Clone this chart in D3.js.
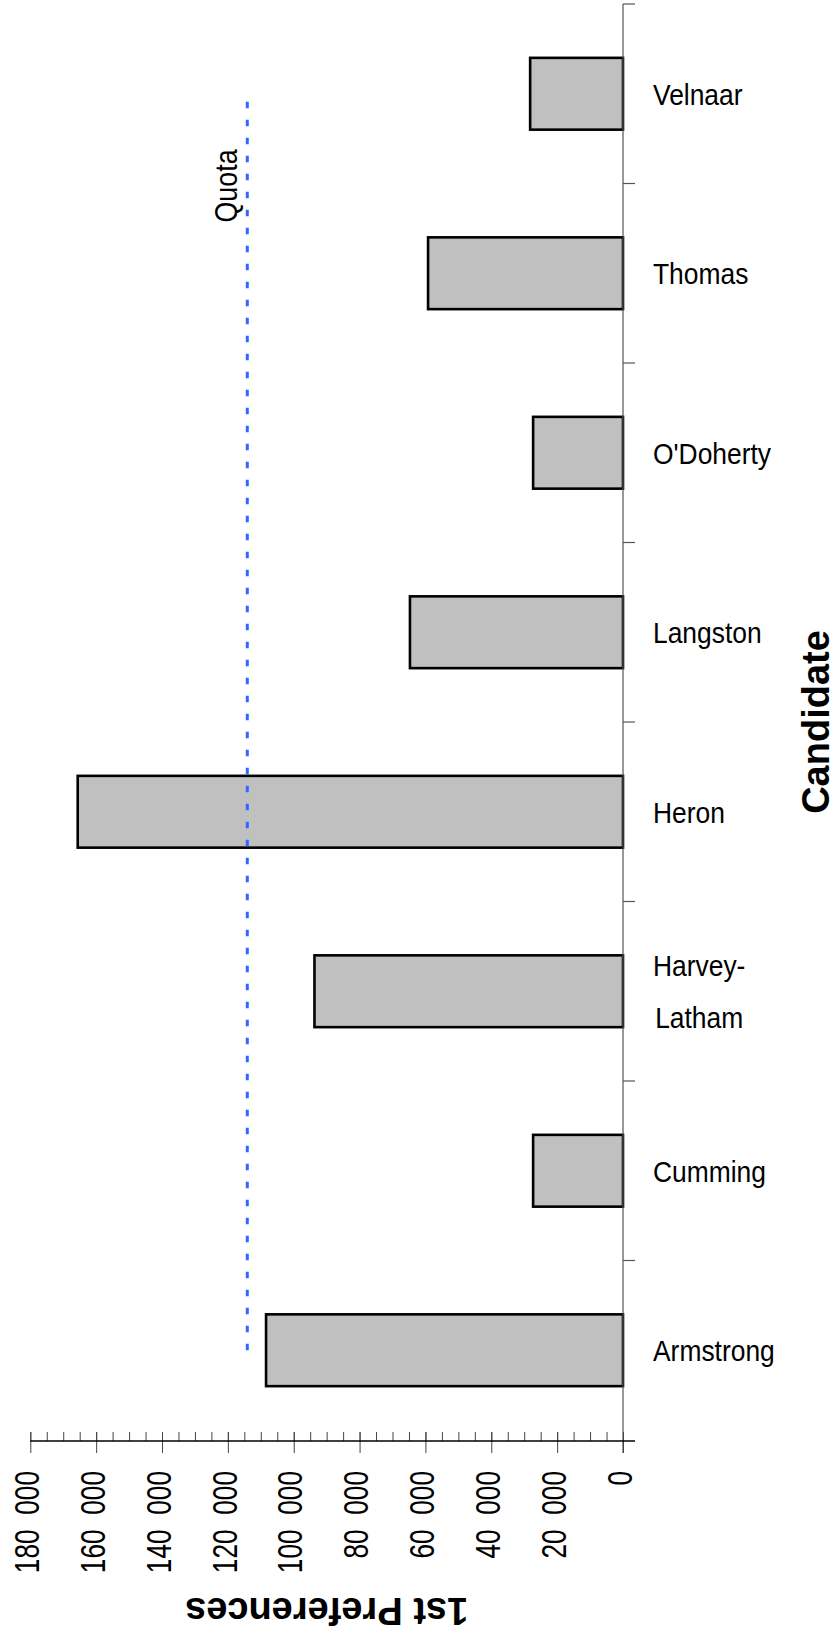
<!DOCTYPE html>
<html>
<head>
<meta charset="utf-8">
<script src="https://cdn.jsdelivr.net/npm/d3@7"></script>
<style>
  html, body { margin: 0; padding: 0; background: #fff; }
  svg text { font-family: "Liberation Sans", Arial, sans-serif; fill: #000; white-space: pre; }
</style>
</head>
<body>
<svg id="chart" width="837" height="1648"></svg>
<script>
// candidates, top to bottom as drawn
const candidates = ["Velnaar", "Thomas", "O'Doherty", "Langston", "Heron", "Harvey-Latham", "Cumming", "Armstrong"];
// label lines (Harvey-Latham wraps)
const candidateLines = [["Velnaar"], ["Thomas"], ["O'Doherty"], ["Langston"], ["Heron"], ["Harvey-", "Latham"], ["Cumming"], ["Armstrong"]];
// 1st preference votes
const firstPrefs = [28200, 59200, 27300, 64700, 165600, 93700, 27300, 108400];
const quota = 114100;
const majorTicks = [0, 20000, 40000, 60000, 80000, 100000, 120000, 140000, 160000, 180000];
const minorTicks = d3.range(0, 180001, 5000);

const svg = d3.select('#chart');

// value axis runs right-to-left
const x = d3.scaleLinear().domain([0, 180000]).range([623, 30.3]);
const y = d3.scaleBand().domain(candidates).range([4, 1440])
    .paddingInner(0.6).paddingOuter(0.3);

const axisY = 1441;
const fmt = d3.formatLocale({ decimal: '.', thousands: '  ', grouping: [3], currency: ['', ''] }).format(',');

// bars
svg.append('g').selectAll('rect')
    .data(candidates)
    .enter().append('rect')
    .attr('x', (d, i) => x(firstPrefs[i]))
    .attr('y', d => y(d))
    .attr('width', (d, i) => x(0) - x(firstPrefs[i]))
    .attr('height', y.bandwidth())
    .attr('fill', '#c0c0c0')
    .attr('stroke', '#000')
    .attr('stroke-width', 2.6);

// quota line, from the middle of the last band up to the first
svg.append('line')
    .attr('x1', x(quota)).attr('x2', x(quota))
    .attr('y1', y(candidates[candidates.length - 1]) + y.bandwidth() / 2)
    .attr('y2', y(candidates[0]) + y.bandwidth() / 2)
    .attr('stroke', '#3366ff')
    .attr('stroke-width', 3)
    .attr('stroke-dasharray', '6.5,11.5');

svg.append('text')
    .attr('transform', `translate(${x(quota) - 10},186) rotate(-90) scale(0.84,1)`)
    .attr('text-anchor', 'middle')
    .attr('font-size', 32)
    .text('Quota');

// category axis line and ticks at band boundaries
const yAxis = svg.append('g');
yAxis.append('line')
    .attr('x1', x(0)).attr('x2', x(0))
    .attr('y1', 4).attr('y2', axisY + 12)
    .attr('stroke', '#555').attr('stroke-width', 1.2);

const step = y.step();
const bounds = d3.range(candidates.length).map(i => y(candidates[i]) - step * y.paddingInner() / 2);
yAxis.selectAll('.ctick')
    .data(bounds)
    .enter().append('line')
    .attr('class', 'ctick')
    .attr('x1', x(0)).attr('x2', x(0) + 12)
    .attr('y1', d => d).attr('y2', d => d)
    .attr('stroke', '#555').attr('stroke-width', 1.2);

// candidate labels
const labels = svg.append('g').selectAll('g')
    .data(candidates)
    .enter().append('g')
    .attr('transform', d => `translate(653,${y(d) + y.bandwidth() / 2}) scale(0.88,1)`);

labels.each(function(d, i) {
    const lines = candidateLines[i];
    const g = d3.select(this);
    const texts = lines.map((t, j) => g.append('text')
        .attr('font-size', 30)
        .attr('y', (j - (lines.length - 1) / 2) * 52)
        .attr('dy', '0.36em')
        .text(t));
    const widths = texts.map(t => t.node().getComputedTextLength());
    const maxW = d3.max(widths);
    texts.forEach((t, j) => t.attr('x', (maxW - widths[j]) / 2));
});

// value axis: minor ticks
const minorAxis = svg.append('g')
    .attr('transform', `translate(0,${axisY})`)
    .call(d3.axisBottom(x).tickValues(minorTicks).tickSizeOuter(0).tickFormat(''));
minorAxis.select('.domain').remove();
minorAxis.selectAll('.tick line')
    .attr('y1', -9).attr('y2', 0)
    .attr('stroke', '#444');

// value axis: major ticks and labels
const majorAxis = svg.append('g')
    .attr('transform', `translate(0,${axisY})`)
    .call(d3.axisBottom(x).tickValues(majorTicks).tickSizeOuter(0).tickFormat(fmt));
majorAxis.select('.domain').remove();
majorAxis.selectAll('.tick line')
    .attr('y1', -9).attr('y2', 12)
    .attr('stroke', '#444');
majorAxis.selectAll('.tick text')
    .attr('font-family', '"Liberation Sans", Arial, sans-serif')
    .attr('font-size', 35)
    .attr('fill', '#000')
    .attr('text-anchor', 'end')
    .attr('y', null)
    .attr('transform', 'translate(-4,30) rotate(-90) scale(0.75,1)')
    .attr('dy', '0.35em');

svg.append('line')
    .attr('x1', x(180000)).attr('x2', x(0) + 12)
    .attr('y1', axisY).attr('y2', axisY)
    .attr('stroke', '#000').attr('stroke-width', 1.4);

// axis titles
svg.append('text')
    .attr('transform', `translate(${(x.range()[0] + x.range()[1]) / 2},1598) rotate(180)`)
    .attr('text-anchor', 'middle')
    .attr('font-size', 38)
    .attr('font-weight', 'bold')
    .text('1st Preferences');

svg.append('text')
    .attr('transform', `translate(829,${(y.range()[0] + y.range()[1]) / 2}) rotate(-90)`)
    .attr('text-anchor', 'middle')
    .attr('font-size', 38)
    .attr('font-weight', 'bold')
    .text('Candidate');
</script>
</body>
</html>
